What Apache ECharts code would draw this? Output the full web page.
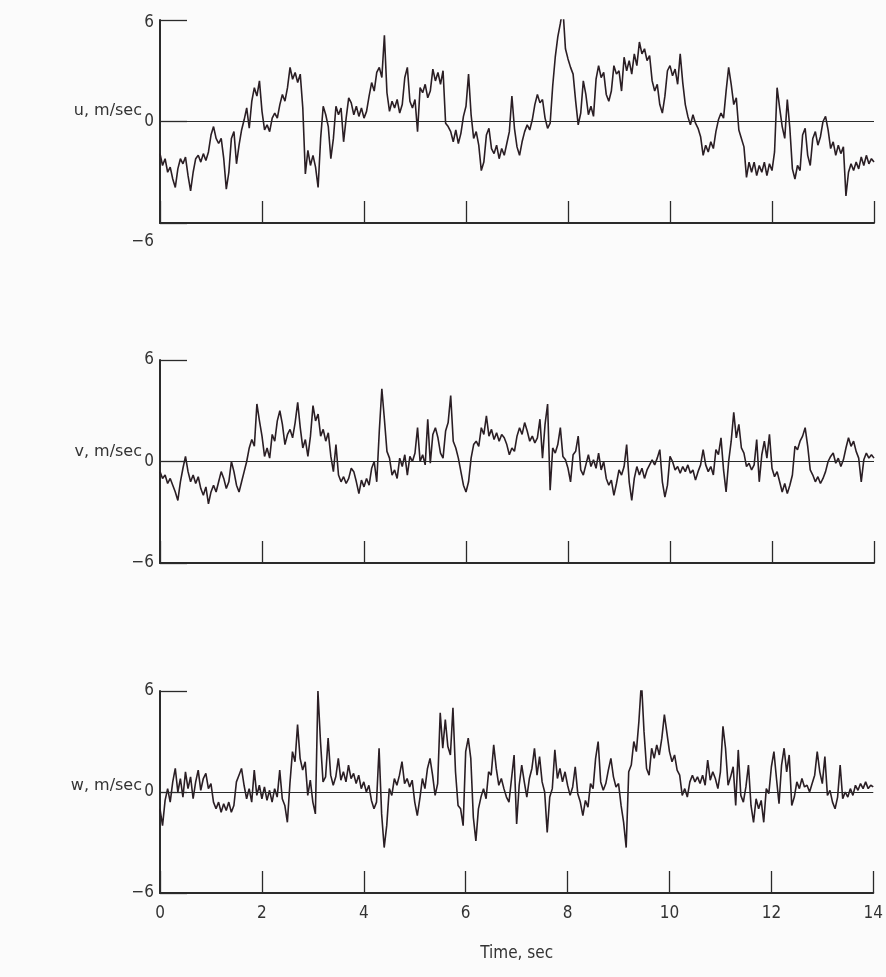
<!DOCTYPE html>
<html>
<head>
<meta charset="utf-8">
<script src="https://cdn.jsdelivr.net/npm/echarts@6/dist/echarts.min.js"></script>
<style>
  html, body { margin: 0; padding: 0; background: #fbfbfb; }
  #chart { width: 886px; height: 977px; }
</style>
</head>
<body>
<div id="chart"></div>
<script>
// sampling step of the traces, seconds
const step = 0.05;

// u, m/sec (one row per second)
const uValues = [
    -1.9, -2.6, -2.2, -3.0, -2.7, -3.4, -3.9, -2.8, -2.2, -2.5, -2.1, -3.2, -4.1, -3.0, -2.2, -2.0, -2.4, -1.9, -2.3, -1.8,
    -0.8, -0.3, -1.0, -1.3, -1.0, -2.2, -4.0, -3.0, -1.0, -0.6, -2.5, -1.4, -0.5, 0.1, 0.8, -0.4, 1.2, 2.0, 1.5, 2.4,
    0.6, -0.5, -0.2, -0.6, 0.2, 0.5, 0.2, 1.0, 1.6, 1.2, 2.0, 3.2, 2.5, 2.9, 2.3, 2.8, 0.8, -3.1, -1.7, -2.6,
    -2.0, -2.7, -3.9, -1.0, 0.9, 0.4, -0.3, -2.2, -1.0, 0.9, 0.4, 0.8, -1.2, 0.2, 1.4, 1.1, 0.4, 0.9, 0.3, 0.8,
    0.2, 0.6, 1.5, 2.3, 1.8, 2.9, 3.2, 2.6, 5.1, 1.7, 0.6, 1.2, 0.8, 1.3, 0.5, 1.0, 2.6, 3.2, 1.2, 0.8,
    1.3, -0.6, 2.0, 1.7, 2.2, 1.4, 1.8, 3.1, 2.4, 2.9, 2.2, 3.0, -0.1, -0.3, -0.6, -1.2, -0.5, -1.3, -0.7, 0.3,
    0.9, 2.8, 0.4, -1.0, -0.6, -1.4, -2.9, -2.4, -0.8, -0.4, -1.6, -1.9, -1.4, -2.2, -1.6, -2.0, -1.3, -0.6, 1.5, -0.4,
    -1.5, -2.0, -1.2, -0.6, -0.2, -0.5, 0.1, 1.0, 1.6, 1.1, 1.3, 0.2, -0.4, -0.1, 2.1, 3.8, 5.0, 5.8, 6.7, 4.3,
    3.7, 3.2, 2.8, 1.2, -0.2, 0.5, 2.4, 1.6, 0.4, 0.9, 0.3, 2.5, 3.3, 2.6, 2.9, 1.6, 1.2, 1.8, 3.3, 2.8,
    3.0, 1.8, 3.8, 3.0, 3.6, 2.8, 4.0, 3.3, 4.7, 4.0, 4.3, 3.6, 3.9, 2.4, 1.8, 2.2, 1.0, 0.5, 1.5, 3.0,
    3.3, 2.7, 3.1, 2.2, 4.0, 2.3, 1.0, 0.3, -0.2, 0.4, -0.1, -0.4, -0.9, -2.0, -1.4, -1.8, -1.2, -1.6, -0.6, 0.1,
    0.5, 0.2, 1.8, 3.2, 2.2, 1.0, 1.4, -0.5, -1.0, -1.5, -3.3, -2.4, -3.0, -2.4, -3.2, -2.6, -3.0, -2.4, -3.2, -2.5,
    -2.9, -1.8, 2.0, 0.8, -0.3, -1.0, 1.3, -0.4, -2.8, -3.4, -2.6, -2.9, -0.8, -0.4, -2.0, -2.6, -1.0, -0.6, -1.4, -0.9,
    0.0, 0.3, -0.5, -1.6, -1.2, -2.0, -1.4, -1.9, -1.5, -4.4, -3.0, -2.5, -2.9, -2.4, -2.8, -2.1, -2.6, -2.0, -2.5, -2.2,
    -2.4
];

// v, m/sec
const vValues = [
    -0.6, -1.0, -0.8, -1.3, -1.0, -1.4, -1.8, -2.3, -1.2, -0.4, 0.3, -0.6, -1.2, -0.8, -1.3, -0.9, -1.6, -2.0, -1.5, -2.5,
    -1.8, -1.4, -1.8, -1.2, -0.6, -1.0, -1.6, -1.2, 0.0, -0.6, -1.4, -1.8, -1.2, -0.6, 0.0, 0.8, 1.3, 0.9, 3.4, 2.4,
    1.5, 0.3, 0.8, 0.2, 1.6, 1.2, 2.4, 3.0, 2.2, 1.0, 1.6, 1.9, 1.4, 2.3, 3.5, 2.0, 0.8, 1.3, 0.3, 1.5,
    3.3, 2.4, 2.8, 1.5, 1.9, 1.2, 1.7, 0.3, -0.6, 1.0, -0.8, -1.2, -0.9, -1.3, -1.0, -0.4, -0.6, -1.2, -1.9, -1.1,
    -1.5, -1.0, -1.4, -0.4, 0.0, -1.2, 1.8, 4.3, 2.5, 0.6, 0.2, -0.8, -0.5, -1.0, 0.2, -0.3, 0.4, -0.8, 0.3, 0.0,
    0.5, 2.0, 0.0, 0.4, -0.2, 2.5, -0.1, 1.6, 2.0, 1.4, 0.5, 0.2, 1.8, 2.3, 3.9, 1.2, 0.8, 0.2, -0.6, -1.4,
    -1.8, -1.2, 0.2, 1.0, 1.2, 0.9, 2.0, 1.6, 2.7, 1.5, 1.9, 1.3, 1.7, 1.2, 1.6, 1.4, 1.0, 0.4, 0.8, 0.6,
    1.5, 2.0, 1.6, 2.3, 1.8, 1.2, 1.5, 1.1, 1.4, 2.5, 0.2, 2.2, 3.4, -1.7, 0.8, 0.5, 1.0, 2.0, 0.3, 0.1,
    -0.4, -1.2, 0.4, 0.6, 1.5, -0.5, -0.8, -0.2, 0.4, -0.3, 0.1, -0.4, 0.5, -0.5, 0.0, -1.0, -1.4, -1.1, -2.0, -1.3,
    -0.5, -0.8, -0.3, 1.0, -1.2, -2.3, -1.0, -0.3, -0.8, -0.4, -1.0, -0.5, -0.2, 0.1, -0.2, 0.2, 0.7, -1.2, -2.1, -1.4,
    0.3, 0.0, -0.5, -0.3, -0.7, -0.3, -0.6, -0.2, -0.7, -0.5, -1.1, -0.6, -0.2, 0.7, -0.2, -0.6, -0.3, -0.8, 0.7, 0.4,
    1.4, -0.5, -1.8, 0.0, 1.2, 2.9, 1.4, 2.2, 0.8, 0.5, -0.3, -0.1, -0.5, -0.2, 1.3, -1.2, 0.4, 1.2, 0.2, 1.6,
    -0.4, -0.9, -0.6, -1.2, -1.8, -1.3, -1.9, -1.4, -0.8, 0.9, 0.7, 1.2, 1.5, 2.0, 0.9, -0.5, -0.8, -1.2, -0.9, -1.3,
    -1.0, -0.6, 0.0, 0.3, 0.5, -0.1, 0.2, -0.3, 0.1, 0.8, 1.4, 0.9, 1.2, 0.6, 0.2, -1.2, 0.1, 0.5, 0.2, 0.4,
    0.2
];

// w, m/sec
const wValues = [
    -1.0, -2.0, -0.5, 0.2, -0.6, 0.6, 1.4, 0.0, 0.8, -0.3, 1.2, 0.2, 0.9, -0.4, 0.6, 1.3, 0.1, 0.8, 1.1, 0.2,
    0.5, -0.6, -1.0, -0.6, -1.2, -0.7, -1.1, -0.6, -1.2, -0.8, 0.6, 1.0, 1.4, 0.4, -0.4, 0.2, -0.6, 1.3, -0.2, 0.4,
    -0.4, 0.3, -0.5, 0.1, -0.6, 0.2, -0.3, 1.3, -0.4, -0.8, -1.8, 0.5, 2.4, 1.8, 4.0, 2.0, 1.3, 1.8, -0.2, 0.7,
    -0.6, -1.3, 6.0, 3.0, 0.6, 0.9, 3.2, 1.0, 0.4, 0.9, 2.0, 0.7, 1.2, 0.6, 1.6, 0.8, 1.1, 0.5, 1.0, 0.2,
    0.6, 0.0, 0.4, -0.5, -1.0, -0.6, 2.6, -1.3, -3.3, -2.0, 0.2, -0.2, 0.8, 0.4, 1.0, 1.8, 0.5, 0.8, 0.3, 0.7,
    -0.6, -1.4, -0.4, 0.8, 0.2, 1.4, 2.0, 1.0, -0.2, 0.5, 4.7, 2.6, 4.3, 2.7, 2.2, 5.0, 1.2, -0.8, -1.0, -2.0,
    2.4, 3.2, 2.0, -1.5, -2.9, -1.0, -0.3, 0.2, -0.4, 1.2, 1.0, 2.8, 1.4, 0.4, 0.8, 0.2, -0.3, -0.6, 0.8, 2.2,
    -1.9, 0.4, 1.6, 0.6, -0.3, 0.8, 1.4, 2.6, 1.0, 2.1, 0.6, 0.0, -2.4, -0.3, 0.2, 2.5, 0.8, 1.4, 0.6, 1.2,
    0.4, -0.2, 0.3, 1.5, -0.1, -0.6, -1.4, -0.5, -0.9, 0.5, 0.2, 2.0, 3.0, 0.6, 0.1, 0.5, 1.3, 2.0, 0.9, 0.3,
    0.5, -0.8, -1.8, -3.3, 1.2, 1.6, 3.0, 2.4, 4.2, 6.6, 3.6, 1.4, 1.0, 2.6, 2.0, 2.8, 2.2, 3.2, 4.6, 3.5,
    2.4, 1.8, 2.2, 1.3, 1.0, -0.2, 0.2, -0.3, 0.6, 1.0, 0.6, 0.9, 0.5, 1.0, 0.4, 1.9, 0.7, 1.2, 0.8, 0.2,
    1.2, 3.9, 2.6, 0.4, 0.9, 1.5, -0.8, 2.5, -0.2, -0.6, 0.3, 1.6, -0.8, -1.8, -0.4, -1.0, -0.5, -1.8, 0.2, -0.1,
    1.5, 2.4, 0.8, -0.7, 1.6, 2.6, 1.2, 2.2, -0.8, -0.3, 0.6, 0.2, 0.8, 0.3, 0.4, 0.0, 0.5, 1.0, 2.4, 1.2,
    0.5, 2.1, -0.2, 0.1, -0.6, -1.0, -0.3, 1.6, -0.4, 0.0, -0.3, 0.2, -0.2, 0.4, 0.1, 0.5, 0.2, 0.6, 0.2, 0.4,
    0.3
];

const panelNames = ['u, m/sec', 'v, m/sec', 'w, m/sec'];
const timeTicks = [0, 2, 4, 6, 8, 10, 12, 14];
const speedTicks = [-6, 0, 6];

const fontFamily = "'Liberation Sans Narrow', 'DejaVu Sans Condensed', 'Liberation Sans', sans-serif";
const nameFont = "'DejaVu Sans', sans-serif";
const ink = '#2a2a2a';
const traceColor = '#2a1e24';

const toPairs = (values) => values.map((v, i) => [+(i * step).toFixed(2), v]);

const grids = [
    { left: 160, right: 12, top: 20, height: 203 },
    { left: 160, right: 12, top: 360, height: 203 },
    { left: 160, right: 12, top: 691, height: 202 }
];
// how far each panel name sits above its zero line
const nameLift = [11, 10, 6];

const xAxes = grids.map((g, i) => ({
    type: 'value',
    gridIndex: i,
    min: timeTicks[0],
    max: timeTicks[timeTicks.length - 1],
    interval: 2,
    axisLine: { show: true, onZero: false, lineStyle: { color: ink, width: 2 } },
    axisTick: { show: true, inside: true, length: 22, lineStyle: { color: ink, width: 1.3 } },
    axisLabel: {
        show: i === 2,
        margin: 12,
        fontSize: 17,
        color: '#333',
        fontFamily: fontFamily
    },
    splitLine: { show: false },
    name: i === 2 ? 'Time, sec' : '',
    nameLocation: 'middle',
    nameGap: 52,
    nameTextStyle: { fontSize: 17, color: '#333', fontFamily: fontFamily }
}));

// the top panel's lower label sits a little below its axis line in the original
const yAxes = grids.map((g, i) => ({
    type: 'value',
    gridIndex: i,
    min: speedTicks[0],
    max: speedTicks[speedTicks.length - 1],
    interval: 6,
    axisLine: { show: true, onZero: false, lineStyle: { color: ink, width: 2 } },
    axisTick: { show: true, inside: true, length: 27, lineStyle: { color: ink, width: 1.3 } },
    axisLabel: {
        margin: 6,
        fontSize: 17,
        color: '#333',
        fontFamily: fontFamily,
        formatter: (v) => {
            const txt = String(v).replace('-', '\u2212');
            if (i === 0 && v < 0) return '{low|' + txt + '}';
            if (v > 0) return '{top|' + txt + '}';
            return txt;
        },
        rich: {
            low: { fontSize: 17, color: '#333', fontFamily: fontFamily, padding: [38, 0, 0, 0] },
            top: { fontSize: 17, color: '#333', fontFamily: fontFamily, padding: [i === 0 ? 6 : 0, 0, 0, 0] }
        }
    },
    splitLine: { show: false }
}));

const seriesData = [uValues, vValues, wValues];

const series = seriesData.map((values, i) => ({
    type: 'line',
    xAxisIndex: i,
    yAxisIndex: i,
    data: toPairs(values),
    showSymbol: false,
    lineStyle: { color: traceColor, width: 1.6 },
    z: 3,
    markLine: {
        silent: true,
        symbol: 'none',
        label: { show: false },
        lineStyle: { color: ink, width: 1.2, type: 'solid' },
        data: [{ yAxis: 0 }]
    }
}));

const nameLabels = panelNames.map((name, i) => ({
    type: 'text',
    x: 142,
    y: grids[i].top + grids[i].height / 2 - nameLift[i],
    style: {
        text: name,
        fontSize: 16,
        fill: '#333',
        fontFamily: nameFont,
        align: 'right',
        verticalAlign: 'middle'
    }
}));

const chart = echarts.init(document.getElementById('chart'));
chart.setOption({
    backgroundColor: '#fbfbfb',
    animation: false,
    grid: grids,
    xAxis: xAxes,
    yAxis: yAxes,
    series: series,
    graphic: nameLabels
});
</script>
</body>
</html>
